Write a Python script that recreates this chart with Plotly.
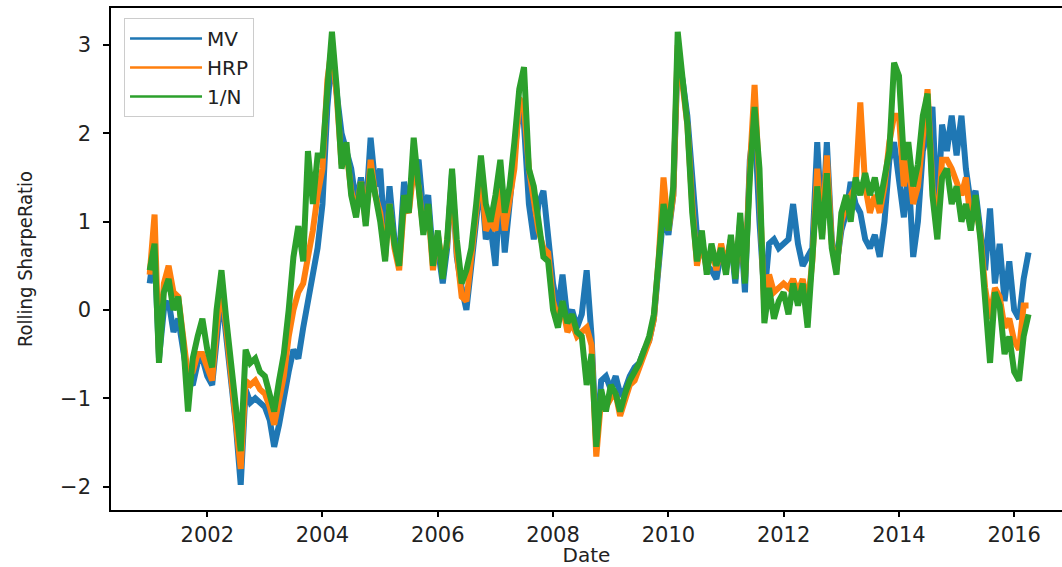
import pandas as pd
import plotly.graph_objects as go

# Monthly observations, Jan 2001 .. Apr 2016
dates = pd.date_range("2001-01-01", periods=184, freq="MS")

one_over_n = [
    0.45, 0.75, -0.6, 0.2, 0.35, 0.0, 0.15, -0.35, -1.15, -0.55, -0.3, -0.1,
    -0.45, -0.65, 0.0, 0.45, -0.1, -0.6, -1.15, -1.6, -0.45, -0.6, -0.55, -0.7,
    -0.75, -0.95, -1.15, -0.8, -0.5, 0.0, 0.6, 0.95, 0.55, 1.8, 1.2, 1.75,
    1.75, 2.5, 3.15, 2.5, 1.6, 1.9, 1.3, 1.05, 1.45, 0.95, 1.6, 1.3,
    1.0, 0.55, 1.2, 0.75, 0.5, 1.3, 1.1, 1.95, 1.35, 0.85, 1.2, 0.5,
    0.9, 0.35, 0.8, 1.6, 0.8, 0.3, 0.45, 0.7, 1.2, 1.75, 1.2, 1.0,
    1.3, 1.7, 1.1, 1.4, 1.9, 2.5, 2.75, 1.6, 1.4, 1.0, 0.6, 0.55,
    0.0, -0.2, 0.1, -0.15, -0.05, -0.25, -0.3, -0.85, -0.5, -1.55, -0.9, -1.15,
    -0.85, -0.95, -1.15, -0.95, -0.8, -0.7, -0.6, -0.45, -0.3, -0.05, 0.6, 1.2,
    0.9, 1.4, 3.15, 2.6, 2.1, 1.1, 0.55, 0.9, 0.4, 0.75, 0.5, 0.7,
    0.4, 0.85, 0.35, 1.1, 0.3, 1.5, 2.3, 1.6, -0.15, 0.25, -0.1, 0.1,
    0.2, -0.05, 0.3, 0.05, 0.3, -0.2, 0.6, 1.4, 0.8, 1.55, 0.7, 0.4,
    1.1, 1.3, 1.0, 1.5, 1.3, 1.55, 1.3, 1.5, 1.2, 1.55, 1.8, 2.8,
    2.65, 1.7, 1.9, 1.4, 1.65, 2.2, 2.45, 1.3, 0.8, 1.5, 1.6, 1.2,
    1.4, 1.0, 1.2, 0.9, 1.3, 0.8, 0.15, -0.6, 0.2, 0.05, -0.5, -0.3,
    -0.7, -0.8, -0.3, -0.05,
]

mv = [
    0.3, 0.7, -0.55, 0.0, 0.1, -0.25, -0.1, -0.45, -0.8, -0.85, -0.6, -0.55,
    -0.75, -0.85, -0.3, 0.2, -0.3, -0.75, -1.3, -1.98, -0.9, -1.05, -1.0, -1.05,
    -1.1, -1.25, -1.55, -1.3, -0.95, -0.7, -0.45, -0.55, -0.2, 0.1, 0.45, 0.7,
    1.2, 2.3, 2.9, 2.4, 2.0, 1.8, 1.6, 1.2, 1.5, 1.1, 1.95, 1.4,
    1.6, 0.75, 1.4, 0.8, 0.6, 1.45, 1.2, 1.6, 1.7, 1.1, 1.3, 0.6,
    0.7, 0.3, 0.7, 1.55, 0.6, 0.25, 0.0, 0.5, 1.1, 1.5, 0.8, 0.95,
    0.5, 1.4, 0.65, 1.2, 1.9, 2.3, 2.1, 1.2, 0.8, 1.2, 1.35, 0.9,
    0.3, 0.0, 0.4, -0.1, 0.0, -0.2, -0.05, 0.45, -0.3, -1.5, -0.8, -0.75,
    -0.9, -0.75, -0.95, -0.9, -0.75, -0.65, -0.6, -0.45, -0.35, -0.1, 0.55, 1.1,
    0.85, 1.3, 2.9, 2.6, 2.2, 1.5, 0.85, 0.7, 0.5, 0.45, 0.35, 0.65,
    0.5, 0.8, 0.3, 1.0, 0.2, 1.7, 2.15, 1.0, 0.15, 0.75, 0.8, 0.7,
    0.75, 0.8, 1.2, 0.75, 0.5, 0.6, 0.7, 1.9, 0.9, 1.9, 0.8, 0.5,
    0.9, 1.1, 1.45, 1.2, 1.1, 0.8, 0.7, 0.85, 0.6, 1.0, 1.7, 1.9,
    1.5, 1.05, 1.6, 0.6, 1.0, 1.8, 2.0, 2.3, 1.0, 2.1, 1.8, 2.2,
    1.75, 2.2, 1.6, 1.2, 1.35, 0.9, 0.45, 1.15, 0.3, 0.75, 0.1, 0.55,
    0.0, -0.1, 0.35, 0.65,
]

hrp = [
    0.4, 1.08, -0.5, 0.3, 0.5, 0.2, 0.15, -0.3, -0.75, -0.7, -0.5, -0.5,
    -0.65, -0.8, -0.2, 0.3, -0.2, -0.7, -1.2, -1.8, -0.8, -0.85, -0.8, -0.9,
    -0.95, -1.1, -1.3, -1.05, -0.75, -0.3, 0.0, 0.2, 0.3, 0.6, 0.9, 1.3,
    1.6, 2.6, 3.0, 2.4, 1.65, 1.8, 1.35, 1.1, 1.45, 1.0, 1.7, 1.3,
    1.1, 0.6, 1.2, 0.7, 0.45, 1.2, 1.1, 1.6, 1.4, 0.9, 1.15, 0.45,
    0.85, 0.5, 0.75, 1.5, 0.65, 0.15, 0.1, 0.6, 1.1, 1.6, 0.9, 1.0,
    0.9, 1.4, 0.9, 1.3, 1.6, 2.4, 2.3, 1.6, 1.2, 0.9, 0.7, 0.65,
    0.1, -0.1, 0.05, -0.25, -0.15, -0.3, -0.25, -0.2, -0.4, -1.66, -1.0, -1.1,
    -1.0, -0.95, -1.2, -1.0, -0.85, -0.8, -0.65, -0.5, -0.35, -0.1, 0.6, 1.5,
    0.9, 1.3, 3.0, 2.55, 2.1, 1.2, 0.5, 0.8, 0.45, 0.7, 0.45, 0.75,
    0.5, 0.8, 0.4, 1.0, 0.35, 1.6, 2.55, 1.4, 0.0, 0.4, 0.2, 0.25,
    0.3, 0.25, 0.35, 0.2, 0.35, 0.05, 0.55, 1.6, 0.85, 1.75, 0.75, 0.45,
    1.0, 1.2, 1.3, 1.4, 2.35, 1.4, 1.1, 1.3, 1.1, 1.4, 1.9, 2.2,
    2.2, 1.4, 1.7, 1.2, 1.4, 2.0, 2.5, 1.4, 0.9, 1.7, 1.7, 1.6,
    1.45, 1.3, 1.5, 1.0, 1.2, 0.85, 0.25, -0.1, 0.25, 0.15, -0.2, -0.1,
    -0.35, -0.45, 0.05, 0.05,
]

series_names = ["MV", "HRP", "1/N"]
series_values = [mv, hrp, one_over_n]
series_colors = ["#1f77b4", "#ff7f0e", "#2ca02c"]

x_tick_years = [2002, 2004, 2006, 2008, 2010, 2012, 2014, 2016]
y_tick_vals = [-2, -1, 0, 1, 2, 3]
y_tick_text = ["\u22122", "\u22121", "0", "1", "2", "3"]

fig = go.Figure()
for name, vals, col in zip(series_names, series_values, series_colors):
    fig.add_trace(go.Scatter(
        x=dates, y=vals, mode="lines", name=name,
        line=dict(color=col, width=6), showlegend=False,
    ))
# legend entries drawn with a thinner line sample, as in the reference
for name, col in zip(series_names, series_colors):
    fig.add_trace(go.Scatter(
        x=[None], y=[None], mode="lines", name=name,
        line=dict(color=col, width=2.5), showlegend=True, hoverinfo="skip",
    ))

FONT = "DejaVu Sans, Verdana, sans-serif"
tick_font = dict(family=FONT, size=21, color="#222222")

fig.update_layout(
    width=1062, height=567,
    margin=dict(l=111, r=0, t=8, b=57, autoexpand=False),
    paper_bgcolor="white", plot_bgcolor="white",
    showlegend=True,
    legend=dict(
        x=0.0137, y=0.98, xanchor="left", yanchor="top",
        bgcolor="rgba(255,255,255,0.9)", bordercolor="#cccccc", borderwidth=1,
        font=dict(family=FONT, size=20, color="#222222"),
        itemwidth=72, tracegroupgap=0,
    ),
)

fig.update_xaxes(
    type="date",
    range=["2000-05-01", "2016-10-30"],
    tickvals=[f"{y}-01-01" for y in x_tick_years],
    ticktext=[str(y) for y in x_tick_years],
    ticks="outside", ticklen=5, tickwidth=1.5, tickcolor="black",
    showline=True, linecolor="black", linewidth=1.5, mirror=True,
    showgrid=False, zeroline=False,
    tickfont=tick_font,
    title=dict(text="Date", font=dict(family=FONT, size=20, color="#222222"), standoff=6),
)

fig.update_yaxes(
    range=[-2.266, 3.42],
    tickvals=y_tick_vals, ticktext=y_tick_text,
    ticks="outside", ticklen=6, tickwidth=1.5, tickcolor="black",
    ticklabelstandoff=8,
    showline=True, linecolor="black", linewidth=1.5, mirror=False,
    showgrid=False, zeroline=False,
    tickfont=tick_font,
    title=dict(text="Rolling SharpeRatio",
               font=dict(family="DejaVu Sans Condensed, Liberation Sans Narrow, Arial Narrow, sans-serif", size=20, color="#222222"),
               standoff=22),
)

fig.write_html(
    "out.html",
    config={"displayModeBar": False},
    post_script="document.body.style.margin='0';document.body.style.overflow='hidden';",
)
